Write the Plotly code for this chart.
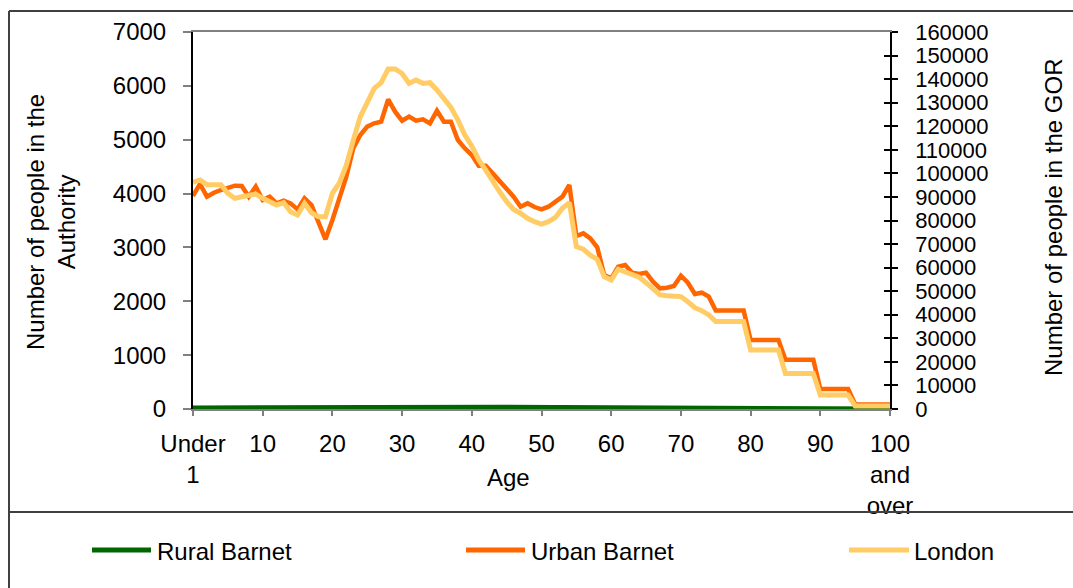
import plotly.graph_objects as go

# ---------------- data ----------------
ages = list(range(101))
tick_vals = [0, 10, 20, 30, 40, 50, 60, 70, 80, 90, 100]
tick_text = ["Under<br>1", "10", "20", "30", "40", "50", "60", "70", "80", "90", "100<br>and<br>over"]

rural_barnet = [25, 26, 27, 28, 29, 30, 31, 32, 33, 34, 35, 36, 38, 40, 40, 38, 36, 34, 32, 30,
                30, 30, 31, 32, 32, 32, 31, 30, 30, 30, 30, 30, 30, 30, 30, 31, 32, 32, 33, 33,
                33, 34, 34, 35, 35, 36, 38, 42, 38, 35, 34, 33, 32, 32, 31, 30, 29, 28, 27, 26,
                25, 25, 24, 24, 23, 23, 22, 22, 21, 21, 20, 19, 18, 17, 16, 15, 14, 14, 13, 13,
                12, 12, 11, 11, 10, 9, 9, 8, 8, 7, 6, 6, 5, 5, 4, 3, 3, 3, 3, 3, 3]

urban_barnet = [3955, 4178, 3942, 4016, 4066, 4097, 4146, 4140, 3942, 4128,
                3880, 3942, 3818, 3868, 3818, 3707, 3911, 3788, 3478, 3150,
                3509, 3880, 4313, 4840, 5087, 5242, 5304, 5335, 5750, 5520,
                5353, 5428, 5353, 5378, 5304, 5539, 5335, 5335, 4994, 4840,
                4716, 4518, 4518, 4375, 4233, 4097, 3942, 3756, 3818, 3750,
                3707, 3756, 3850, 3942, 4159, 3212, 3261, 3168, 3001, 2488,
                2426, 2643, 2674, 2531, 2507, 2531, 2364, 2241, 2253, 2284,
                2475, 2345, 2135, 2160, 2086, 1830, 1830, 1830, 1830, 1830,
                1280, 1280, 1280, 1280, 1280, 915, 915, 915, 915, 915,
                371, 371, 371, 371, 371, 90, 90, 90, 90, 90, 85]

london = [96200, 97200, 95200, 95200, 95200, 91500, 89400, 90100, 90400, 91200,
          89400, 88000, 86600, 87600, 83700, 82300, 87300, 83300, 81600, 81600,
          91500, 96000, 103500, 114100, 124100, 130000, 136100, 138500, 144300, 144300,
          142400, 138200, 139600, 138200, 138500, 135400, 131800, 128000, 122700, 116300,
          111600, 105700, 101400, 96500, 92200, 88000, 84700, 83000, 80900, 79500,
          78500, 79500, 81300, 85200, 87600, 68900, 67800, 65300, 63500, 56200,
          54700, 59300, 58300, 56900, 55900, 53600, 51200, 48400, 48100, 48000,
          47700, 45500, 43000, 41700, 39900, 37100, 37100, 37100, 37100, 37100,
          25000, 25000, 25000, 25000, 25000, 15100, 15100, 15100, 15100, 15100,
          5900, 5900, 5900, 5900, 5900, 1300, 1300, 1300, 1300, 1300, 1300]

series_names = ["Rural Barnet", "Urban Barnet", "London"]
series_colors = ["#006600", "#FF6600", "#FFCC66"]

# ---------------- layout helpers (pixel -> paper) ----------------
W, H = 1073, 588
PL, PR, PT, PB = 193, 890, 32, 409


def px(x):
    return (x - PL) / (PR - PL)


def py(y):
    return (PB - y) / (PB - PT)


FONT = "Liberation Sans, Arial, sans-serif"
FS = 24

fig = go.Figure()
fig.add_trace(go.Scatter(x=ages, y=rural_barnet, name=series_names[0], mode="lines",
                         line=dict(color=series_colors[0], width=4.5), yaxis="y", showlegend=False))
fig.add_trace(go.Scatter(x=ages, y=urban_barnet, name=series_names[1], mode="lines",
                         line=dict(color=series_colors[1], width=4.5), yaxis="y", showlegend=False))
fig.add_trace(go.Scatter(x=ages, y=london, name=series_names[2], mode="lines",
                         line=dict(color=series_colors[2], width=5), yaxis="y2", showlegend=False))
# invisible helper trace so the inner tick axis is drawn
fig.add_trace(go.Scatter(x=[0], y=[0], mode="markers", marker=dict(opacity=0), yaxis="y3",
                         showlegend=False, hoverinfo="skip"))

shapes = []
annotations = []

# outer frame and legend separator
frame_col = "#404040"
shapes.append(dict(type="line", xref="paper", yref="paper", x0=px(9), x1=px(W + 5), y0=py(11), y1=py(11),
                   line=dict(color=frame_col, width=2)))
shapes.append(dict(type="line", xref="paper", yref="paper", x0=px(9), x1=px(9), y0=py(11), y1=py(H + 5),
                   line=dict(color=frame_col, width=2)))
shapes.append(dict(type="line", xref="paper", yref="paper", x0=px(9), x1=px(W + 5), y0=py(512), y1=py(512),
                   line=dict(color=frame_col, width=2)))

# custom legend
leg_x = [(92, 151, 155), (466, 525, 529), (849, 909, 912)]
for (x0, x1, tx), name, col in zip(leg_x, series_names, series_colors):
    shapes.append(dict(type="line", xref="paper", yref="paper", x0=px(x0), x1=px(x1), y0=py(550), y1=py(550),
                       line=dict(color=col, width=5)))
    annotations.append(dict(text=name, xref="paper", yref="paper", x=px(tx), y=py(551), xanchor="left",
                            yanchor="middle", showarrow=False, font=dict(family=FONT, size=FS, color="black")))

# axis titles
annotations.append(dict(text="Number of people in the<br>Authority", xref="paper", yref="paper",
                        x=px(51), y=py(222), xanchor="center", yanchor="middle", textangle=-90,
                        showarrow=False, font=dict(family=FONT, size=FS, color="black")))
annotations.append(dict(text="Number of people in the GOR", xref="paper", yref="paper",
                        x=px(1053), y=py(217), xanchor="center", yanchor="middle", textangle=-90,
                        showarrow=False, font=dict(family=FONT, size=FS, color="black")))
annotations.append(dict(text="Age", xref="paper", yref="paper",
                        x=px(508), y=py(477), xanchor="center", yanchor="middle",
                        showarrow=False, font=dict(family=FONT, size=FS, color="black")))

fig.update_layout(
    width=W, height=H, autosize=False,
    margin=dict(l=PL, r=W - PR, t=PT, b=H - PB, pad=0),
    paper_bgcolor="white", plot_bgcolor="white",
    font=dict(family=FONT, size=FS, color="black"),
    shapes=shapes, annotations=annotations,
    xaxis=dict(range=[0, 100], tickmode="array", tickvals=tick_vals, ticktext=tick_text,
               showgrid=False, zeroline=False, showline=True, linecolor="#808080", linewidth=1.5,
               mirror=True, ticks="outside", ticklen=5, tickcolor="#808080", tickwidth=1.5,
               ticklabelstandoff=7, tickfont=dict(family=FONT, size=FS, color="black")),
    yaxis=dict(range=[0, 7000], dtick=1000, tick0=0, showgrid=False, zeroline=False,
               showline=True, linecolor="black", linewidth=2, ticks="outside", ticklen=8,
               tickcolor="#808080", tickwidth=1.5, ticklabelstandoff=12,
               tickfont=dict(family=FONT, size=FS, color="black")),
    yaxis2=dict(range=[0, 160000], dtick=10000, tick0=0, tickformat="d", overlaying="y", side="right",
                showgrid=False, zeroline=False, showline=True, linecolor="black", linewidth=1.5,
                ticks="outside", ticklen=6, tickcolor="black", tickwidth=1.5, ticklabelstandoff=13,
                tickfont=dict(family=FONT, size=22, color="black")),
    yaxis3=dict(range=[0, 160000], dtick=10000, tick0=0, overlaying="y", side="right",
                showgrid=False, zeroline=False, showline=False, showticklabels=False,
                ticks="inside", ticklen=6, tickcolor="black", tickwidth=1.5),
)

fig.write_html("out.html", config={"displayModeBar": False},
               post_script="document.body.style.margin='0';document.body.style.overflow='hidden';")
